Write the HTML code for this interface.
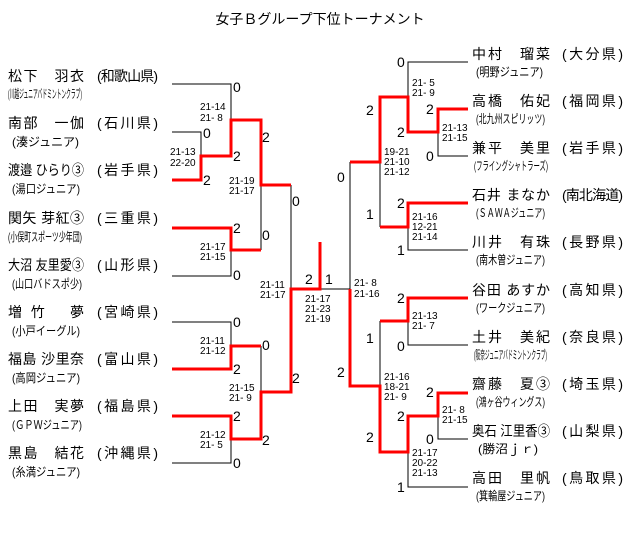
<!DOCTYPE html>
<html><head><meta charset="utf-8"><style>
html,body{margin:0;padding:0;background:#fff;}
svg{display:block;}
text{font-family:"Liberation Sans","Noto Sans CJK JP",sans-serif;fill:#000;}
.n{font-size:14px;}
.s{font-size:12px;}
.c{font-size:10px;}
.w{font-size:14px;}
</style></head><body>
<svg width="640" height="541" xmlns="http://www.w3.org/2000/svg" xml:space="preserve">
<text x="320" y="24" class="n" text-anchor="middle" font-size="14">女子Ｂグループ下位トーナメント</text>

<g stroke="#000" stroke-width="1" fill="none">
<path d="M172 84H231V120"/>
<path d="M172 132H201V156"/>
<path d="M261 185V250"/>
<path d="M172 276H231V250"/>
<path d="M172 322H231V346"/>
<path d="M261 346V392"/>
<path d="M172 463H231V439"/>
<path d="M291 185V289"/>
<path d="M468 62H408V97"/>
<path d="M468 156H438V132"/>
<path d="M468 250H408V227"/>
<path d="M380 162V227"/>
<path d="M350 162V289H320"/>
<path d="M468 345H408V321"/>
<path d="M380 321V386"/>
<path d="M468 439H438V416"/>
<path d="M468 487H408V452"/>
</g>
<g stroke="#f00" stroke-width="3" fill="none">
<path d="M172 180H201V156H231V120H261V185H291"/>
<path d="M172 228H231V250H261"/>
<path d="M172 369H231V346H261"/>
<path d="M172 416H231V439H261V392H291V289H320V242"/>
<path d="M468 109H438V132H408V97H380V162H350"/>
<path d="M468 203H408V227H380"/>
<path d="M350 289V386H380V452H408V416H438V393H468"/>
<path d="M468 298H408V321H380"/>
</g>

<g class="n" lengthAdjust="spacing">
<text x="8" y="81" textLength="76">松下　羽衣</text><text x="97" y="81" textLength="61">(和歌山県)</text>
<text x="8" y="128" textLength="76">南部　一伽</text><text x="97" y="128" textLength="61">(石川県)</text>
<text x="8" y="175" textLength="76" lengthAdjust="spacingAndGlyphs">渡邉 ひらり③</text><text x="97" y="175" textLength="61">(岩手県)</text>
<text x="8" y="223" textLength="76">関矢 芽紅③</text><text x="97" y="223" textLength="61">(三重県)</text>
<text x="8" y="270" textLength="76" lengthAdjust="spacingAndGlyphs">大沼 友里愛③</text><text x="97" y="270" textLength="61">(山形県)</text>
<text x="8" y="317" textLength="76">増 竹　 夢</text><text x="97" y="317" textLength="61">(宮崎県)</text>
<text x="8" y="364" textLength="76">福島 沙里奈</text><text x="97" y="364" textLength="61">(富山県)</text>
<text x="8" y="411" textLength="76">上田　実夢</text><text x="97" y="411" textLength="61">(福島県)</text>
<text x="8" y="458" textLength="76">黒島　結花</text><text x="97" y="458" textLength="61">(沖縄県)</text>
</g>
<g class="s">
<text x="8" y="98" textLength="74" lengthAdjust="spacingAndGlyphs">(川越ジュニアバドミントンクラブ)</text>
<text x="12" y="146" textLength="67" lengthAdjust="spacingAndGlyphs">(湊ジュニア)</text>
<text x="12" y="193" textLength="68" lengthAdjust="spacingAndGlyphs">(湯口ジュニア)</text>
<text x="8" y="241" textLength="74" lengthAdjust="spacingAndGlyphs">(小俣町スポーツ少年団)</text>
<text x="12" y="288" textLength="70" lengthAdjust="spacingAndGlyphs">(山口バドスポ少)</text>
<text x="12" y="335" textLength="68" lengthAdjust="spacingAndGlyphs">(小戸イーグル)</text>
<text x="12" y="382" textLength="68" lengthAdjust="spacingAndGlyphs">(高岡ジュニア)</text>
<text x="12" y="429" textLength="70" lengthAdjust="spacingAndGlyphs">(ＧＰＷジュニア)</text>
<text x="12" y="476" textLength="68" lengthAdjust="spacingAndGlyphs">(糸満ジュニア)</text>
</g>

<g class="n" lengthAdjust="spacing">
<text x="472" y="59" textLength="78">中村　瑠菜</text><text x="562" y="59" textLength="61">(大分県)</text>
<text x="472" y="106" textLength="78">高橋　佑妃</text><text x="562" y="106" textLength="61">(福岡県)</text>
<text x="472" y="153" textLength="78">兼平　美里</text><text x="562" y="153" textLength="61">(岩手県)</text>
<text x="472" y="200" textLength="78">石井 まなか</text><text x="562" y="200" textLength="61">(南北海道)</text>
<text x="472" y="247" textLength="78">川井　有珠</text><text x="562" y="247" textLength="61">(長野県)</text>
<text x="472" y="295" textLength="78">谷田 あすか</text><text x="562" y="295" textLength="61">(高知県)</text>
<text x="472" y="342" textLength="78">土井　美紀</text><text x="562" y="342" textLength="61">(奈良県)</text>
<text x="472" y="389" textLength="78">齋藤　夏③</text><text x="562" y="389" textLength="61">(埼玉県)</text>
<text x="472" y="436" textLength="78" lengthAdjust="spacingAndGlyphs">奥石 江里香③</text><text x="562" y="436" textLength="61">(山梨県)</text>
<text x="472" y="483" textLength="78">高田　里帆</text><text x="562" y="483" textLength="61">(鳥取県)</text>
</g>
<g class="s">
<text x="476" y="76" textLength="67" lengthAdjust="spacingAndGlyphs">(明野ジュニア)</text>
<text x="476" y="123" textLength="69" lengthAdjust="spacingAndGlyphs">(北九州スピリッツ)</text>
<text x="474" y="170" textLength="74" lengthAdjust="spacingAndGlyphs">(フライングシャトラーズ)</text>
<text x="476" y="217" textLength="69" lengthAdjust="spacingAndGlyphs">(ＳＡＷＡジュニア)</text>
<text x="476" y="264" textLength="69" lengthAdjust="spacingAndGlyphs">(南木曽ジュニア)</text>
<text x="476" y="312" textLength="69" lengthAdjust="spacingAndGlyphs">(ワークジュニア)</text>
<text x="474" y="359" textLength="73" lengthAdjust="spacingAndGlyphs">(阪奈ジュニアバドミントンクラブ)</text>
<text x="476" y="406" textLength="69" lengthAdjust="spacingAndGlyphs">(鴻ヶ谷ウィングス)</text>
<text x="478" y="453" textLength="60" lengthAdjust="spacingAndGlyphs">(勝沼ｊｒ)</text>
<text x="476" y="500" textLength="69" lengthAdjust="spacingAndGlyphs">(箕輪屋ジュニア)</text>
</g>

<g class="w">
<text x="233" y="92">0</text>
<text x="203" y="138">0</text>
<text x="203" y="185">2</text>
<text x="233" y="161">2</text>
<text x="262" y="142">2</text>
<text x="292" y="206">0</text>
<text x="233" y="233">2</text>
<text x="262" y="240">0</text>
<text x="233" y="280">0</text>
<text x="305" y="284">2</text>
<text x="325" y="284">1</text>
<text x="233" y="327">0</text>
<text x="262" y="350">0</text>
<text x="233" y="374">2</text>
<text x="292" y="383">2</text>
<text x="233" y="421">2</text>
<text x="262" y="445">2</text>
<text x="233" y="468">0</text>

<text x="397" y="67">0</text>
<text x="366" y="115">2</text>
<text x="426" y="114">2</text>
<text x="397" y="137">2</text>
<text x="426" y="161">0</text>
<text x="337" y="182">0</text>
<text x="397" y="208">2</text>
<text x="366" y="219">1</text>
<text x="397" y="255">1</text>
<text x="397" y="303">2</text>
<text x="366" y="343">1</text>
<text x="397" y="351">0</text>
<text x="337" y="377">2</text>
<text x="426" y="397">2</text>
<text x="397" y="421">2</text>
<text x="366" y="442">2</text>
<text x="426" y="444">0</text>
<text x="397" y="492">1</text>
</g>

<g class="c">
<text x="200" y="110">21-14</text><text x="200" y="121">21-  8</text>
<text x="170" y="155">21-13</text><text x="170" y="166">22-20</text>
<text x="229" y="184">21-19</text><text x="229" y="194">21-17</text>
<text x="200" y="250">21-17</text><text x="200" y="260">21-15</text>
<text x="260" y="288">21-11</text><text x="260" y="298">21-17</text>
<text x="305" y="302">21-17</text><text x="305" y="312">21-23</text><text x="305" y="322">21-19</text>
<text x="200" y="344">21-11</text><text x="200" y="354">21-12</text>
<text x="229" y="391">21-15</text><text x="229" y="401">21-  9</text>
<text x="200" y="438">21-12</text><text x="200" y="448">21-  5</text>

<text x="412" y="86">21-  5</text><text x="412" y="96">21-  9</text>
<text x="442" y="131">21-13</text><text x="442" y="141">21-15</text>
<text x="384" y="155">19-21</text><text x="384" y="165">21-10</text><text x="384" y="175">21-12</text>
<text x="412" y="220">21-16</text><text x="412" y="230">12-21</text><text x="412" y="240">21-14</text>
<text x="354" y="286">21-  8</text><text x="354" y="297">21-16</text>
<text x="412" y="319">21-13</text><text x="412" y="329">21-  7</text>
<text x="384" y="380">21-16</text><text x="384" y="390">18-21</text><text x="384" y="400">21-  9</text>
<text x="442" y="413">21-  8</text><text x="442" y="423">21-15</text>
<text x="412" y="456">21-17</text><text x="412" y="466">20-22</text><text x="412" y="476">21-13</text>
</g>
</svg>
</body></html>
